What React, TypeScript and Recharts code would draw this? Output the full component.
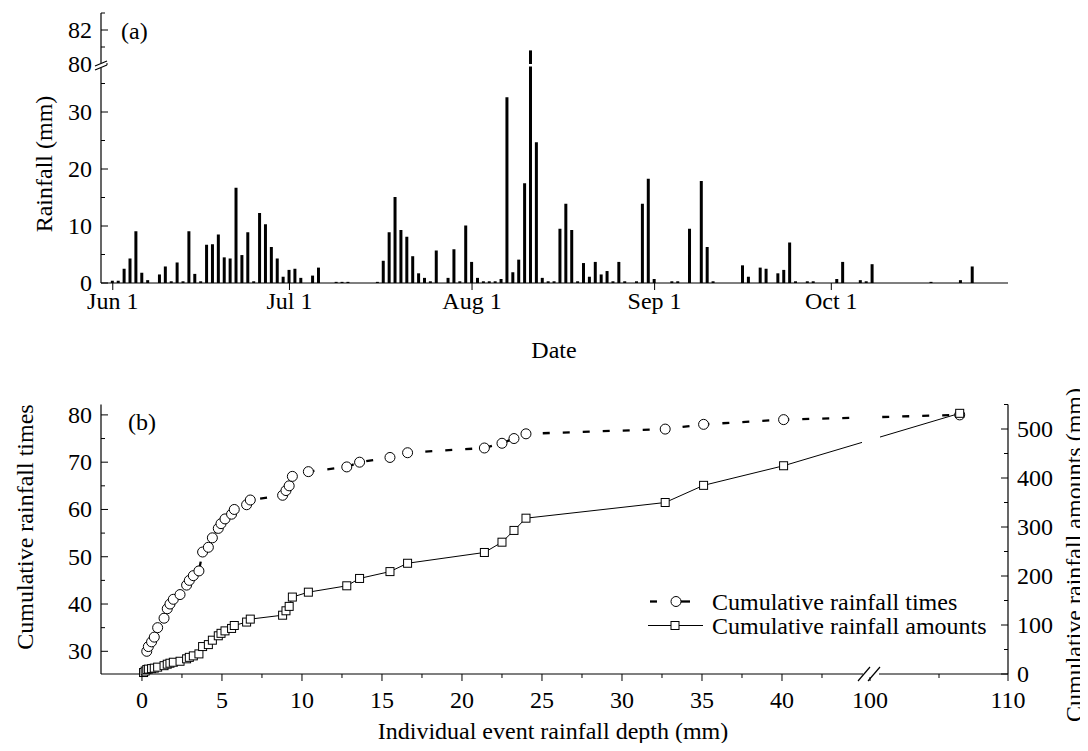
import { BarChart, Bar, XAxis, YAxis, ComposedChart, Line } from "recharts";

const FONT = '"Liberation Serif", "Times New Roman", Times, serif';

// (a) daily rainfall (mm), index 0 = Jun 1 ... index 152 = Oct 31
const dailyRainfall = [
  // Jun
  0.4, 0.4, 2.5, 4.3, 9.1, 1.8, 0.5, 0, 1.5, 2.9,
  0.3, 3.6, 0.3, 9.1, 1.6, 0.3, 6.7, 6.8, 8.5, 4.5,
  4.3, 16.7, 4.9, 8.9, 0.3, 12.3, 10.3, 6.3, 4.3, 1.1,
  // Jul
  2.3, 2.5, 0.9, 0, 1.3, 2.7, 0, 0, 0.2, 0.2,
  0.2, 0, 0, 0, 0, 0.2, 3.9, 8.9, 15.1, 9.3,
  8.1, 4.7, 1.7, 0.9, 0.3, 5.7, 0, 0.9, 5.9, 0.3,
  10.1,
  // Aug
  3.7, 0.9, 0.3, 0.3, 0.3, 0.7, 32.6, 1.9, 4.1, 17.5,
  80.8, 24.7, 0.9, 0.3, 0.3, 9.5, 13.9, 9.3, 0.3, 3.5,
  1.1, 3.7, 1.5, 2.1, 0.3, 3.7, 0.3, 0, 0.3, 13.9,
  18.3,
  // Sep
  0.7, 0, 0, 0.3, 0.3, 0, 9.5, 0, 17.9, 6.3,
  0.3, 0, 0, 0, 0, 3.1, 1.1, 0, 2.7, 2.5,
  0, 1.7, 2.3, 7.1, 0.3, 0, 0.3, 0.3, 0, 0,
  // Oct
  0, 0.7, 3.7, 0, 0, 0.5, 0.3, 3.3, 0, 0,
  0, 0, 0, 0, 0, 0, 0, 0.2, 0, 0,
  0, 0, 0.5, 0, 2.9, 0, 0, 0, 0, 0,
  0,
];
const monthTickDays = [0, 30, 61, 92, 122];
const monthTickLabels = ["Jun 1", "Jul 1", "Aug 1", "Sep 1", "Oct 1"];
const lowerRainTicks = [0, 5, 10, 15, 20, 25, 30, 35];
const upperRainTicks = [80, 81, 82, 83];
const rainLabelTicks = [0, 10, 20, 30, 80, 82];

// (b) event rainfall depth vs cumulative counts / amounts
const eventDepth = [
  0.1, 0.2, 0.3, 0.4, 0.6, 0.77, 0.98, 1.38, 1.58, 1.75,
  1.96, 2.38, 2.79, 2.96, 3.21, 3.56, 3.79, 4.15, 4.4, 4.77,
  4.94, 5.19, 5.6, 5.77, 6.54, 6.77, 8.79, 9.0, 9.2, 9.4,
  10.4, 12.8, 13.6, 15.5, 16.6, 21.4, 22.5, 23.25, 24.0, 32.7,
  35.1, 40.1, 106.5,
];
const cumulativeTimes = [
  null, null, 30, 31, 32, 33, 35, 37, 39, 40,
  41, 42, 44, 45, 46, 47, 51, 52, 54, 56,
  57, 58, 59, 60, 61, 62, 63, 64, 65, 67,
  68, 69, 70, 71, 72, 73, 74, 75, 76, 77,
  78, 79, 80,
];
const cumulativeAmounts = [
  3, 6, 9, 10, 11, 12, 14, 17, 20, 22,
  24, 26, 31, 34, 37, 41, 56, 60, 69, 78,
  83, 88, 93, 99, 106, 112, 120, 129, 138, 157,
  167, 180, 195, 209, 226, 248, 269, 293, 318, 350,
  385, 425, 532,
];
const depthTicks = [
  0, 2.5, 5, 7.5, 10, 12.5, 15, 17.5, 20, 22.5, 25, 27.5, 30, 32.5, 35, 37.5, 40, 42.5,
  100, 105, 110,
];
const depthLabelTicks = [0, 5, 10, 15, 20, 25, 30, 35, 40, 100, 110];
const timesTicks = [30, 35, 40, 45, 50, 55, 60, 65, 70, 75, 80];
const timesLabelTicks = [30, 40, 50, 60, 70, 80];
const amountTicks = [0, 50, 100, 150, 200, 250, 300, 350, 400, 450, 500, 550];
const amountLabelTicks = [0, 100, 200, 300, 400, 500];

const dailyData = dailyRainfall.map((rain, day) => ({ day, rain }));
const eventData = eventDepth.map((depth, i) => ({
  depth,
  times: cumulativeTimes[i],
  amount: cumulativeAmounts[i],
}));

// broken x axis for (b): [-2.56, 45.5] then [100, 110]
const LEFT_END = 45.5;
const RIGHT_START = 100;
const LEFT_SHARE = 769 / 907;

function brokenScale(): any {
  let dom = [0, 1];
  let rng = [0, 1];
  const s: any = (v: number) => {
    const r0 = rng[0];
    const r1 = rng[1];
    const rb = r0 + (r1 - r0) * LEFT_SHARE;
    if (v <= LEFT_END) return r0 + ((v - dom[0]) / (LEFT_END - dom[0])) * (rb - r0);
    if (v >= RIGHT_START) return rb + ((v - RIGHT_START) / (dom[1] - RIGHT_START)) * (r1 - rb);
    return rb;
  };
  s.domain = (d?: any[]) => {
    if (d === undefined) return dom.slice();
    dom = d.map(Number);
    return s;
  };
  s.range = (r?: any[]) => {
    if (r === undefined) return rng.slice();
    rng = r.map(Number);
    return s;
  };
  s.copy = () => brokenScale().domain(dom).range(rng);
  s.ticks = () => depthTicks;
  s.tickFormat = () => (v: any) => String(v);
  s.nice = () => s;
  s.clamp = () => s;
  return s;
}

const txt = { fontFamily: FONT, fontSize: 24, fill: "#000" };

const LeftTick = ({ x, y, payload, labels }: any) => {
  const major = labels.includes(payload.value);
  return (
    <g>
      <line x1={x} x2={x + (major ? 7 : 4)} y1={y} y2={y} stroke="#000" />
      {major && (
        <text x={x - 9} y={y + 8} textAnchor="end" {...txt}>
          {payload.value}
        </text>
      )}
    </g>
  );
};

const RightTick = ({ x, y, payload, labels }: any) => {
  const major = labels.includes(payload.value);
  return (
    <g>
      <line x1={x} x2={x - (major ? 7 : 4)} y1={y} y2={y} stroke="#000" />
      {major && (
        <text x={x + 9} y={y + 8} textAnchor="start" {...txt}>
          {payload.value}
        </text>
      )}
    </g>
  );
};

const BottomTick = ({ x, y, payload, labels, fmt, dy }: any) => {
  const major = labels.includes(payload.value);
  return (
    <g>
      <line x1={x} x2={x} y1={y} y2={y + (major ? 7 : 4)} stroke="#000" />
      {major && (
        <text x={x} y={y + dy} textAnchor="middle" {...txt}>
          {fmt ? fmt(payload.value) : payload.value}
        </text>
      )}
    </g>
  );
};

const CircleDot = ({ cx, cy, index }: any) =>
  cx == null || cy == null ? null : (
    <circle key={index} cx={cx} cy={cy} r={5} fill="#fff" stroke="#000" strokeWidth={1} />
  );

const SquareDot = ({ cx, cy, index }: any) =>
  cx == null || cy == null ? null : (
    <rect key={index} x={cx - 4} y={cy - 4} width={8} height={8} fill="#fff" stroke="#000" strokeWidth={1} />
  );

const monthLabel = (v: number) => monthTickLabels[monthTickDays.indexOf(v)];

const App = () => {
  const axisLine = { stroke: "#000", strokeWidth: 1.2 };
  return (
    <div style={{ position: "relative", width: 1088, height: 751, margin: -8, background: "#fff", fontFamily: FONT }}>
      {/* (a) lower part 0-38 mm */}
      <div style={{ position: "absolute", left: 0, top: 0 }}>
        <BarChart width={1088} height={330} data={dailyData} margin={{ top: 66.4, right: 80, bottom: 0, left: 0 }}>
          <XAxis
            dataKey="day"
            type="number"
            domain={[-2, 152]}
            ticks={monthTickDays}
            interval={0}
            height={47}
            tickSize={0}
            tickMargin={0}
            tickLine={false}
            axisLine={axisLine}
            tick={(p: any) => <BottomTick {...p} labels={monthTickDays} fmt={monthLabel} dy={26} />}
          />
          <YAxis
            domain={[0, 38]}
            allowDataOverflow
            ticks={lowerRainTicks}
            interval={0}
            width={101}
            tickSize={0}
            tickMargin={0}
            tickLine={false}
            axisLine={axisLine}
            tick={(p: any) => <LeftTick {...p} labels={rainLabelTicks} />}
          />
          <Bar dataKey="rain" fill="#000" barSize={3} isAnimationActive={false} />
        </BarChart>
      </div>
      {/* (a) upper part 80-83 mm */}
      <div style={{ position: "absolute", left: 0, top: 0 }}>
        <BarChart width={1088} height={90} data={dailyData} margin={{ top: 13, right: 80, bottom: 26, left: 0 }}>
          <XAxis dataKey="day" type="number" domain={[-2, 152]} hide />
          <YAxis
            domain={[80, 83]}
            allowDataOverflow
            ticks={upperRainTicks}
            interval={0}
            width={101}
            tickSize={0}
            tickMargin={0}
            tickLine={false}
            axisLine={axisLine}
            tick={(p: any) => <LeftTick {...p} labels={rainLabelTicks} />}
          />
          <Bar dataKey="rain" fill="#000" barSize={3} isAnimationActive={false} />
        </BarChart>
      </div>
      {/* (b) */}
      <div style={{ position: "absolute", left: 0, top: 380 }}>
        <ComposedChart width={1088} height={371} data={eventData} margin={{ top: 24.5, right: 0, bottom: 0, left: 0 }}>
          <XAxis
            dataKey="depth"
            type="number"
            domain={[-2.56, 110]}
            scale={brokenScale()}
            ticks={depthTicks}
            interval={0}
            height={77}
            tickSize={0}
            tickMargin={0}
            tickLine={false}
            axisLine={axisLine}
            tick={(p: any) => <BottomTick {...p} labels={depthLabelTicks} dy={34} />}
          />
          <YAxis
            yAxisId="times"
            domain={[25.2, 82.2]}
            ticks={timesTicks}
            interval={0}
            width={101}
            tickSize={0}
            tickMargin={0}
            tickLine={false}
            axisLine={axisLine}
            tick={(p: any) => <LeftTick {...p} labels={timesLabelTicks} />}
          />
          <YAxis
            yAxisId="amount"
            orientation="right"
            domain={[0, 550]}
            ticks={amountTicks}
            interval={0}
            width={80}
            tickSize={0}
            tickMargin={0}
            tickLine={false}
            axisLine={axisLine}
            tick={(p: any) => <RightTick {...p} labels={amountLabelTicks} />}
          />
          <Line
            yAxisId="times"
            dataKey="times"
            type="linear"
            stroke="#000"
            strokeWidth={2.3}
            strokeDasharray="7 13"
            dot={CircleDot}
            activeDot={false}
            isAnimationActive={false}
          />
          <Line
            yAxisId="amount"
            dataKey="amount"
            type="linear"
            stroke="#000"
            strokeWidth={1}
            dot={SquareDot}
            activeDot={false}
            isAnimationActive={false}
          />
        </ComposedChart>
      </div>
      {/* labels, legend and axis breaks */}
      <svg width={1088} height={751} style={{ position: "absolute", left: 0, top: 0, pointerEvents: "none" }}>
        <text x={121} y={30.5} dominantBaseline="central" {...txt}>(a)</text>
        <text x={128} y={422} dominantBaseline="central" {...txt}>(b)</text>
        <text x={43.6} y={164} transform="rotate(-90 43.6 164)" textAnchor="middle" dominantBaseline="central" {...txt}>
          Rainfall (mm)
        </text>
        <text x={554} y={350} textAnchor="middle" dominantBaseline="central" {...txt}>Date</text>
        <text x={25} y={527} transform="rotate(-90 25 527)" textAnchor="middle" dominantBaseline="central" {...txt}>
          Cumulative rainfall times
        </text>
        <text x={1074} y={555} transform="rotate(-90 1074 555)" textAnchor="middle" dominantBaseline="central" {...txt}>
          Cumulative rainfall amounts (mm)
        </text>
        <text x={553} y={731} textAnchor="middle" dominantBaseline="central" {...txt}>
          Individual event rainfall depth (mm)
        </text>

        {/* legend */}
        <line x1={650} x2={657} y1={601.5} y2={601.5} stroke="#000" strokeWidth={2.3} />
        <line x1={680} x2={690} y1={601.5} y2={601.5} stroke="#000" strokeWidth={2.3} />
        <circle cx={676} cy={601.5} r={5} fill="#fff" stroke="#000" />
        <text x={712} y={601.5} dominantBaseline="central" {...txt}>Cumulative rainfall times</text>
        <line x1={648} x2={703} y1={625.5} y2={625.5} stroke="#000" strokeWidth={1} />
        <rect x={671} y={621.5} width={8} height={8} fill="#fff" stroke="#000" />
        <text x={712} y={625.5} dominantBaseline="central" {...txt}>Cumulative rainfall amounts</text>

        {/* (a) y-axis break */}
        <rect x={96} y={63} width={10} height={5} fill="#fff" />
        <line x1={95} y1={66} x2={107} y2={61} stroke="#000" strokeWidth={1.2} />
        <line x1={95} y1={70} x2={107} y2={65} stroke="#000" strokeWidth={1.2} />

        {/* (b) line gap and x-axis break */}
        <rect x={862} y={405} width={18} height={60} fill="#fff" />
        <rect x={863} y={671} width={16} height={6} fill="#fff" />
        <line x1={858} y1={681} x2={870} y2={667} stroke="#000" strokeWidth={1.2} />
        <line x1={868} y1={681} x2={880} y2={667} stroke="#000" strokeWidth={1.2} />
      </svg>
    </div>
  );
};

export default App;
